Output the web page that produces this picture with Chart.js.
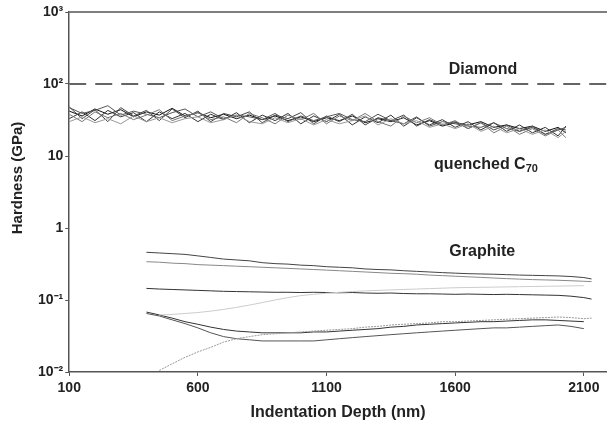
<!DOCTYPE html>
<html>
<head>
<meta charset="utf-8">
<script src="https://cdn.jsdelivr.net/npm/chart.js@4"></script>
<style>
  body { margin: 0; background: #fff; }
  canvas { display: block; }
</style>
</head>
<body>
<canvas id="chart" width="607" height="426"></canvas>
<script>
// hardness vs depth, log scale
const X_TICKS = [100, 600, 1100, 1600, 2100];
const Y_TICKS = [0.01, 0.1, 1, 10, 100, 1000];
const Y_TICK_LABELS = {0.01: "10⁻²", 0.1: "10⁻¹", 1: "1", 10: "10", 100: "10²", 1000: "10³"};

const DIAMOND_DEPTH = [100, 2200];
const DIAMOND_HARDNESS = [100, 100];

// quenched C70 runs
const C70_DEPTH = [100,150,200,250,300,350,400,450,500,550,600,650,700,750,800,850,900,950,1000,1050,
                   1100,1150,1200,1250,1300,1350,1400,1450,1500,1550,1600,1650,1700,1750,1800,1850,1900,1950,2000,2030];
const C70_RUN1 = [42,36,45,38,44,35,41,37,46,36,40,34,38,33,37,32,36,31,35,30,34,31,36,29,33,30,34,27,31,26,29,27,30,25,27,24,26,22,25,21];
const C70_RUN2 = [33,41,31,43,35,40,30,41,33,39,30,38,32,40,29,37,31,39,28,36,30,38,27,35,29,37,26,34,27,32,25,30,23,29,22,27,21,25,19,26];
const C70_RUN3 = [38,30,41,34,39,32,37,44,31,36,40,32,35,29,39,34,28,37,32,39,28,36,31,39,30,26,36,29,34,27,31,24,29,21,26,20,24,19,23,18];
const C70_RUN4 = [47,39,43,50,37,42,38,34,40,45,35,41,33,37,35,32,39,30,36,31,35,39,32,30,38,31,28,35,26,30,28,26,25,29,24,22,26,20,23,25];
const C70_RUN5 = [30,35,29,33,28,36,30,34,29,33,35,29,32,37,30,28,34,29,33,27,32,28,31,36,27,33,28,31,25,28,24,28,22,26,21,24,20,23,18,22];
const C70_RUN6 = [48,33,44,30,47,36,43,31,45,34,42,30,39,35,41,29,37,33,40,28,36,30,38,27,34,31,37,26,32,27,30,24,29,23,27,22,25,20,24,23];

// graphite runs
const GRAPHITE_DEPTH = [400,450,500,550,600,650,700,750,800,850,900,950,1000,1050,1100,1150,1200,1250,1300,1350,
                        1400,1450,1500,1550,1600,1650,1700,1750,1800,1850,1900,1950,2000,2050,2100,2130];
const GR_A = [0.46,0.45,0.44,0.43,0.41,0.39,0.37,0.36,0.35,0.33,0.32,0.315,0.305,0.30,0.29,0.285,0.28,0.27,0.265,0.262,
              0.255,0.25,0.245,0.24,0.236,0.232,0.23,0.228,0.225,0.222,0.22,0.218,0.216,0.212,0.205,0.196];
const GR_B = [0.34,0.335,0.325,0.32,0.31,0.305,0.30,0.295,0.29,0.285,0.28,0.275,0.27,0.265,0.26,0.255,0.25,0.245,0.24,0.235,
              0.232,0.228,0.222,0.218,0.214,0.21,0.206,0.202,0.198,0.195,0.192,0.19,0.188,0.185,0.182,0.18];
const GR_C = [0.145,0.142,0.14,0.138,0.136,0.134,0.132,0.131,0.13,0.129,0.128,0.128,0.127,0.128,0.127,0.126,0.127,0.125,0.124,0.125,
              0.123,0.122,0.122,0.121,0.12,0.121,0.12,0.119,0.12,0.119,0.118,0.117,0.116,0.113,0.108,0.103];
const GR_D = [null,0.062,0.063,0.065,0.067,0.07,0.074,0.079,0.085,0.092,0.1,0.108,0.115,0.12,0.124,0.128,0.131,0.134,0.136,0.138,
              0.14,0.142,0.144,0.146,0.148,0.149,0.15,0.151,0.152,0.153,0.154,0.155,0.156,0.157,0.158,null];
const GR_E = [0.068,0.062,0.056,0.05,0.046,0.042,0.039,0.037,0.036,0.035,0.035,0.035,0.035,0.036,0.036,0.037,0.038,0.039,0.04,0.042,
              0.043,0.045,0.046,0.047,0.048,0.049,0.05,0.05,0.051,0.052,0.053,0.053,0.052,0.051,0.05,null];
const GR_F = [0.065,0.06,0.053,0.047,0.041,0.035,0.031,0.029,0.028,0.027,0.027,0.027,0.027,0.027,0.028,0.029,0.03,0.031,0.032,0.033,
              0.034,0.035,0.036,0.037,0.038,0.039,0.04,0.041,0.041,0.042,0.043,0.044,0.045,0.043,0.04,null];
const GR_G = [null,0.0105,0.013,0.016,0.019,0.022,0.026,0.029,0.031,0.033,0.034,0.035,0.036,0.037,0.038,0.039,0.04,0.042,0.043,0.045,
              0.046,0.047,0.048,0.05,0.05,0.051,0.052,0.053,0.054,0.055,0.056,0.057,0.058,0.057,0.055,0.056];

const pts = (xs, ys) => xs.map((x, i) => ({x: x, y: ys[i]})).filter(p => p.y !== null);

const line = (xs, ys, color, extra) => Object.assign({
    data: pts(xs, ys),
    borderColor: color,
    borderWidth: 1,
    pointRadius: 0,
    tension: 0,
    fill: false
}, extra || {});

const datasets = [
    line(DIAMOND_DEPTH, DIAMOND_HARDNESS, "#333", {borderWidth: 1.5, borderDash: [17, 9]}),
    line(C70_DEPTH, C70_RUN5, "#999"),
    line(C70_DEPTH, C70_RUN3, "#777"),
    line(C70_DEPTH, C70_RUN4, "#555"),
    line(C70_DEPTH, C70_RUN6, "#444"),
    line(C70_DEPTH, C70_RUN2, "#333"),
    line(C70_DEPTH, C70_RUN1, "#111"),
    line(GRAPHITE_DEPTH, GR_D, "#ccc"),
    line(GRAPHITE_DEPTH, GR_B, "#888"),
    line(GRAPHITE_DEPTH, GR_A, "#444"),
    line(GRAPHITE_DEPTH, GR_C, "#333"),
    line(GRAPHITE_DEPTH, GR_G, "#999", {borderDash: [2, 1]}),
    line(GRAPHITE_DEPTH, GR_F, "#555"),
    line(GRAPHITE_DEPTH, GR_E, "#333")
];

const FONT = "'Liberation Sans', Arial, sans-serif";

// labels, top border and y title
const extras = {
    id: "extras",
    afterDraw(chart) {
        const ctx = chart.ctx;
        const xs = chart.scales.x, ys = chart.scales.y;
        const area = chart.chartArea;
        ctx.save();
        ctx.strokeStyle = "#555";
        ctx.lineWidth = 1.5;
        ctx.beginPath();
        ctx.moveTo(area.left, area.top);
        ctx.lineTo(chart.width, area.top);
        ctx.stroke();

        ctx.fillStyle = "#222";
        ctx.font = "bold 16px " + FONT;
        ctx.textBaseline = "middle";
        ctx.textAlign = "center";
        ctx.fillText("Diamond", xs.getPixelForValue(1708), ys.getPixelForValue(157));
        ctx.fillText("Graphite", xs.getPixelForValue(1705), ys.getPixelForValue(0.47));

        ctx.textAlign = "left";
        const qx = xs.getPixelForValue(1518), qy = ys.getPixelForValue(7.6);
        const q = "quenched C";
        ctx.fillText(q, qx, qy);
        const w = ctx.measureText(q).width;
        ctx.font = "bold 11px " + FONT;
        ctx.fillText("70", qx + w, qy + 4);

        ctx.font = "bold 15px " + FONT;
        ctx.textAlign = "center";
        ctx.translate(18, 178);
        ctx.rotate(-Math.PI / 2);
        ctx.fillText("Hardness (GPa)", 0, 0);
        ctx.restore();
    }
};

new Chart(document.getElementById("chart"), {
    type: "line",
    data: {datasets: datasets},
    options: {
        responsive: false,
        animation: false,
        devicePixelRatio: 1,
        layout: {padding: {left: 36, top: 12, right: 0, bottom: 0}},
        plugins: {legend: {display: false}, tooltip: {enabled: false}},
        scales: {
            x: {
                type: "linear",
                min: 100,
                max: 2190,
                afterBuildTicks: (scale) => { scale.ticks = X_TICKS.map(v => ({value: v})); },
                ticks: {color: "#222", font: {family: FONT, size: 14, weight: "bold"}, padding: 4, maxRotation: 0,
                        callback: (v) => String(v)},
                grid: {drawOnChartArea: false, drawTicks: true, tickLength: 4, color: "#555"},
                border: {color: "#555", width: 1.5},
                title: {display: true, text: "Indentation Depth (nm)", color: "#222",
                        font: {family: FONT, size: 16, weight: "bold"}, padding: {top: 2, bottom: 4}}
            },
            y: {
                type: "logarithmic",
                min: 0.01,
                max: 1000,
                afterBuildTicks: (scale) => { scale.ticks = Y_TICKS.map(v => ({value: v})); },
                ticks: {color: "#222", font: {family: FONT, size: 14, weight: "bold"}, padding: 2,
                        callback: (v) => Y_TICK_LABELS[v]},
                grid: {drawOnChartArea: false, drawTicks: true, tickLength: 4, color: "#555"},
                border: {color: "#555", width: 1.5}
            }
        }
    },
    plugins: [extras]
});
</script>
</body>
</html>
